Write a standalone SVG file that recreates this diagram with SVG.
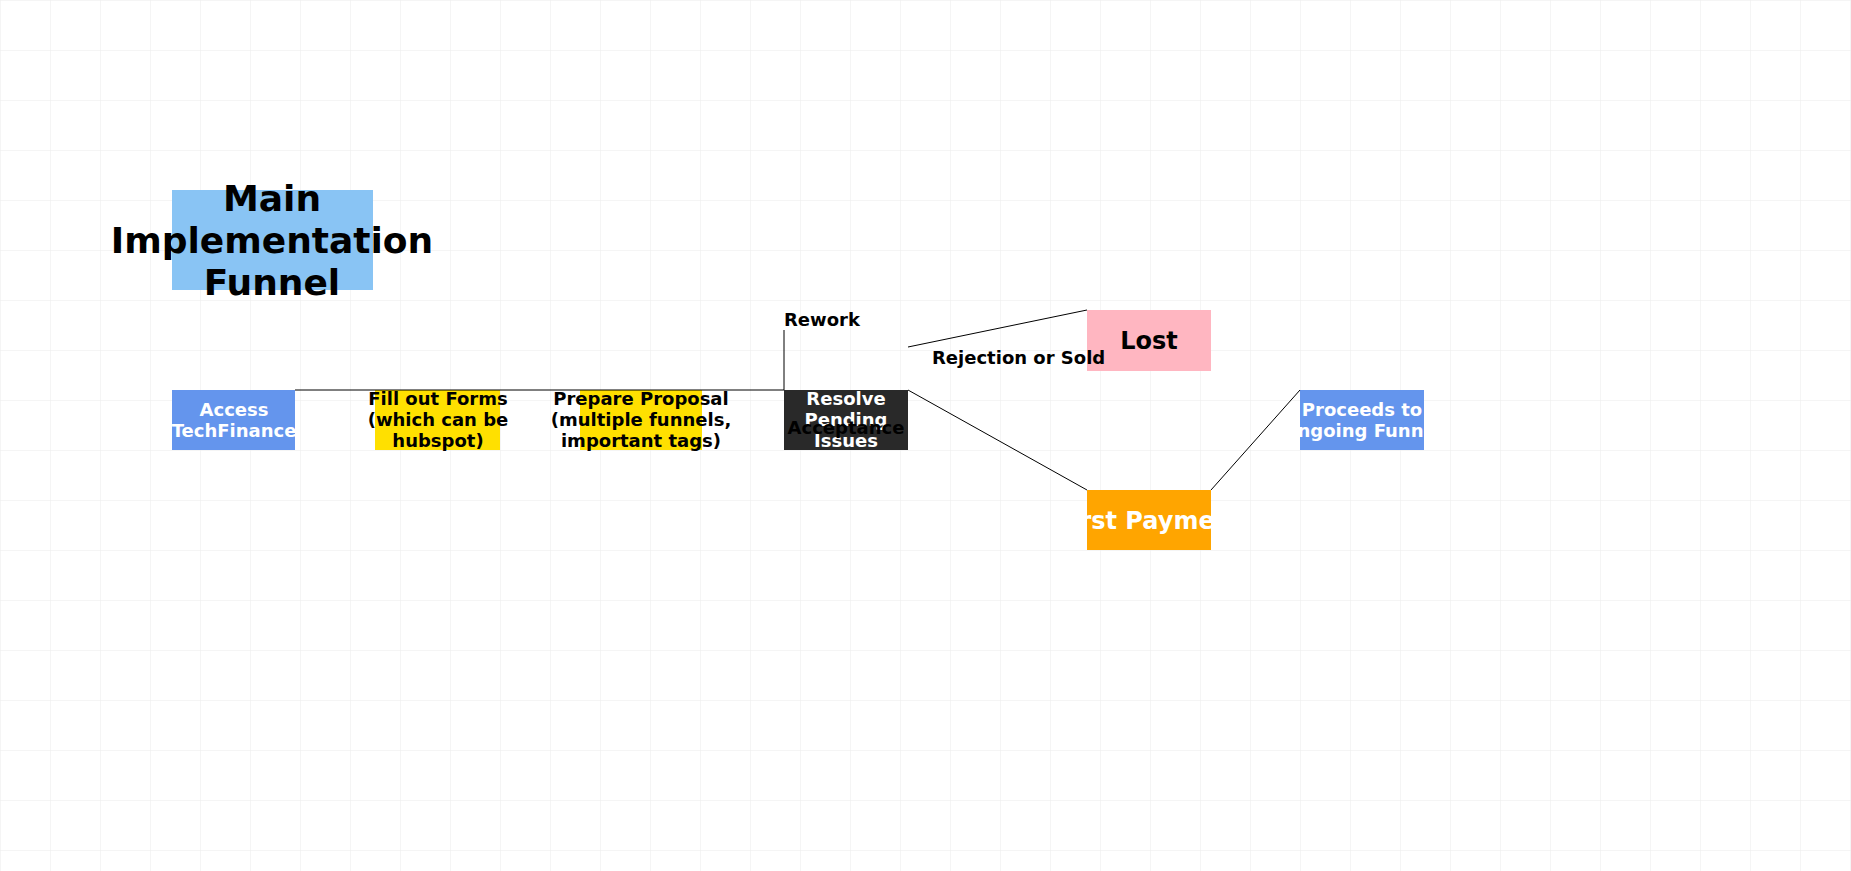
<svg xmlns="http://www.w3.org/2000/svg" width="1851" height="871" viewBox="0 0 1851 871">
<defs>
<pattern id="grid" width="50" height="50" patternUnits="userSpaceOnUse"><path d="M50 0H0V50" fill="none" stroke="#ececec" stroke-width="1"/></pattern>
<clipPath id="cPay"><rect x="1087" y="490" width="124" height="60"/></clipPath>
<clipPath id="cPro"><rect x="1300" y="390" width="124" height="60"/></clipPath>
</defs>
<style>
text{font-family:"DejaVu Sans",sans-serif;font-weight:bold;text-anchor:middle}
.n{font-size:18px}
.w{fill:#fff}
.l{font-size:18px;text-anchor:start}
</style>
<rect width="1851" height="871" fill="#fff"/>
<rect width="1851" height="871" fill="url(#grid)"/>
<g id="title"><rect x="172" y="190" width="201" height="100" fill="#89C4F4"/>
<text font-size="36" x="272" y="211">Main</text><text font-size="36" x="272" y="253">Implementation</text><text font-size="36" x="272" y="295">Funnel</text></g>
<g id="access"><rect x="172" y="390" width="123" height="60" fill="#6495ED"/>
<text class="n w" x="234" y="416">Access</text><text class="n w" x="234" y="437">TechFinance</text></g>
<g id="forms"><rect x="375" y="390" width="125" height="60" fill="#FFE000"/>
<text class="n" x="438" y="405">Fill out Forms</text><text class="n" x="438" y="426">(which can be</text><text class="n" x="438" y="447">hubspot)</text></g>
<g id="proposal"><rect x="580" y="390" width="122" height="60" fill="#FFE000"/>
<text class="n" x="641" y="405">Prepare Proposal</text><text class="n" x="641" y="426">(multiple funnels,</text><text class="n" x="641" y="447">important tags)</text></g>
<g id="resolve"><rect x="784" y="390" width="124" height="60" fill="#292929"/>
<text class="n w" x="846" y="405">Resolve</text><text class="n w" x="846" y="426">Pending</text><text class="n w" x="846" y="447">Issues</text></g>
<g id="lost"><rect x="1087" y="310" width="124" height="61" fill="#FFB6C1"/>
<text font-size="24" x="1149" y="349">Lost</text></g>
<g id="payment"><rect x="1087" y="490" width="124" height="60" fill="#FFA500"/>
<text font-size="24" class="w" x="1149" y="529" clip-path="url(#cPay)">First Payment</text></g>
<g id="proceeds"><rect x="1300" y="390" width="124" height="60" fill="#6495ED"/>
<text class="n w" x="1362" y="416" clip-path="url(#cPro)">Proceeds to</text><text class="n w" x="1362" y="437" clip-path="url(#cPro)">Ongoing Funnel</text></g>
<g id="connectors" fill="none" stroke="#000" stroke-width="1">
<path d="M295 390H784"/>
<path d="M784 390V330"/>
<path d="M908 347L1087 310"/>
<path d="M908 390L1087 490"/>
<path d="M1211 490L1300 390"/>
<text class="l" stroke="none" fill="#000" x="784" y="326">Rework</text>
<text class="l" stroke="none" fill="#000" x="932" y="364">Rejection or Sold</text>
<text class="n" stroke="none" fill="#000" x="846" y="434">Acceptance</text>
</g>
</svg>
